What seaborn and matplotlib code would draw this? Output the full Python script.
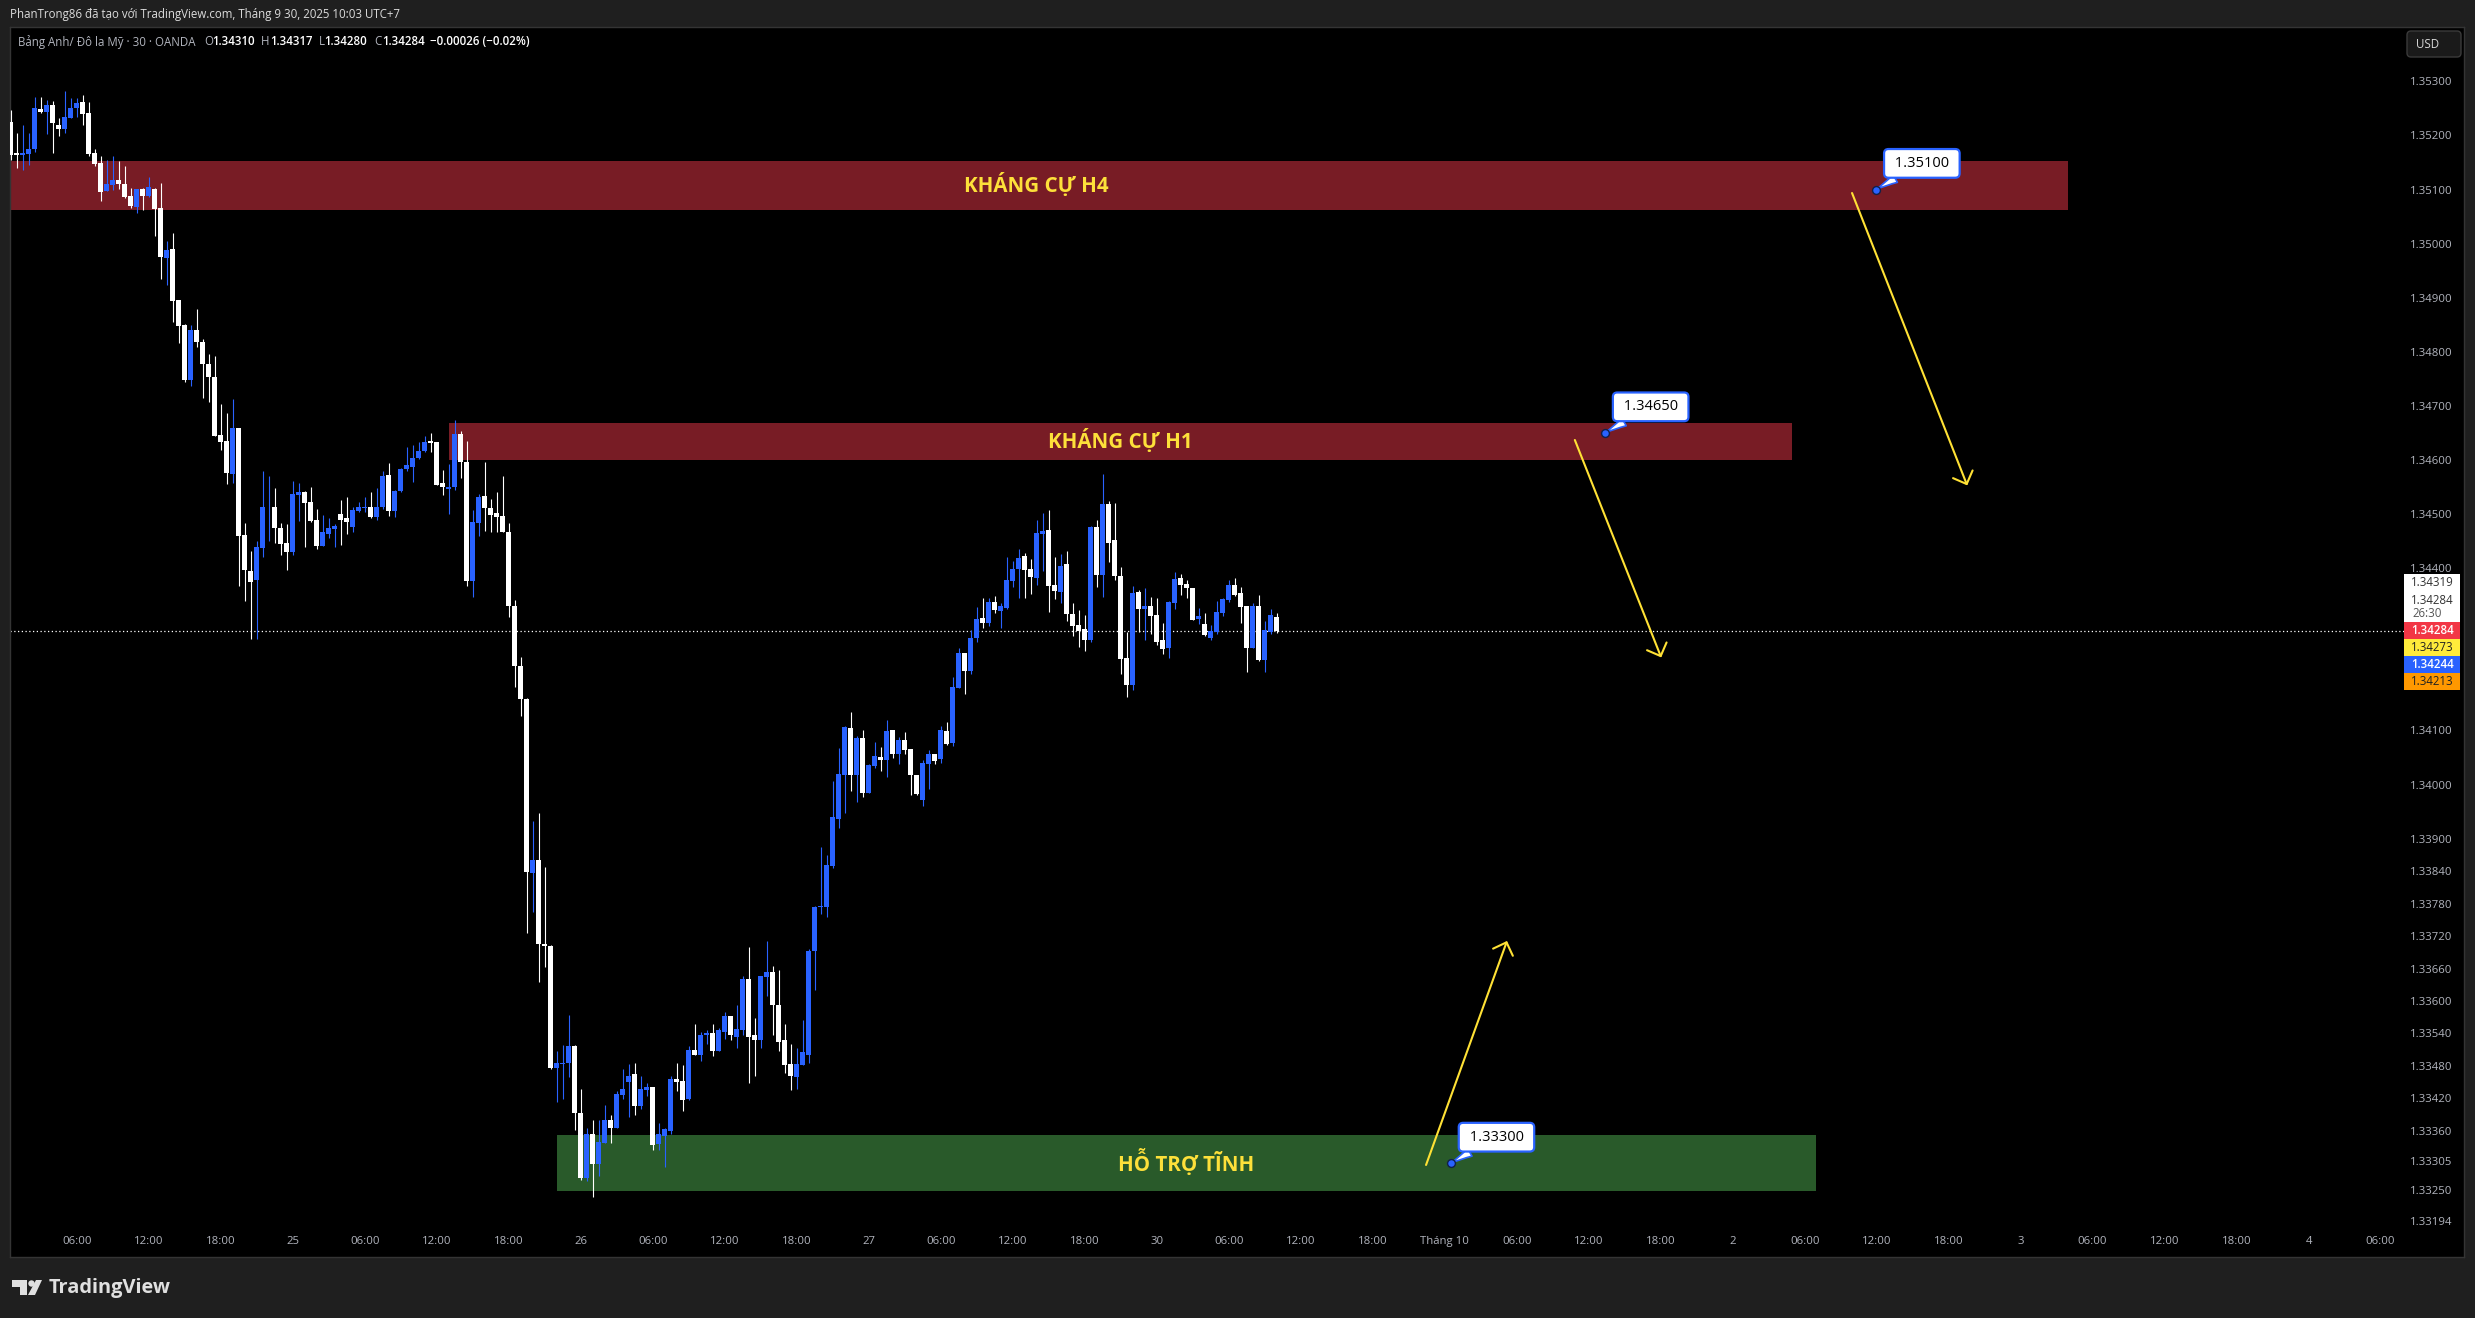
import numpy as np
import pandas as pd
import seaborn as sns
import matplotlib.pyplot as plt
from matplotlib.patches import Rectangle, FancyBboxPatch, Polygon, Circle
from matplotlib.transforms import IdentityTransform

# GBP/USD 30m candles, prices in points (1e-5)
body_top = [
    135225,135168,135168,135174,135250,135249,135257,135257,135219,135234,
    135250,135260,135262,135242,135168,135149,135111,135118,135118,135111,
    135088,135100,135100,135105,135101,135066,134989,134990,134895,134849,
    134840,134840,134819,134778,134754,134646,134635,134660,134660,134462,
    134395,134439,134514,134514,134514,134474,134447,134538,134541,134541,
    134522,134489,134466,134474,134478,134500,134493,134507,134513,134514,
    134513,134514,134570,134572,134542,134583,134590,134604,134616,134634,
    134635,134633,134557,134550,134648,134648,134596,134485,134531,134533,
    134511,134502,134496,134467,134330,134219,134158,133861,133860,133706,
    133702,133485,133485,133516,133516,133393,133355,133355,133339,133380,
    133380,133429,133438,133462,133465,133438,133441,133441,133355,133363,
    133455,133455,133452,133510,133510,133538,133540,133540,133546,133572,
    133572,133548,133641,133641,133537,133647,133653,133653,133593,133527,
    133483,133483,133505,133693,133773,133775,133852,133940,134020,134107,
    134105,134086,134086,134036,134053,134051,134099,134101,134083,134083,
    134066,134018,134040,134057,134057,134101,134099,134181,134244,134244,
    134271,134306,134308,134338,134338,134330,134378,134399,134419,134422,
    134399,134465,134469,134470,134369,134404,134408,134315,134295,134288,
    134476,134476,134518,134518,134452,134386,134234,134354,134356,134330,
    134330,134314,134268,134338,134380,134382,134371,134363,134312,134297,
    134284,134319,134343,134369,134369,134354,134330,134330,134330,134286,
    134314,134310,
]
body_bottom = [
    135164,135164,135164,135166,135174,135243,135243,135223,135212,135212,
    135233,135250,135240,135166,135147,135096,135097,135108,135111,135087,
    135070,135068,135088,135088,135064,134976,134974,134893,134847,134747,
    134747,134819,134777,134753,134644,134633,134576,134574,134459,134396,
    134375,134378,134437,134513,134474,134444,134430,134430,134535,134521,
    134487,134441,134441,134464,134472,134489,134485,134476,134506,134511,
    134494,134494,134513,134506,134506,134542,134583,134587,134604,134616,
    134631,134553,134550,134546,134550,134596,134376,134376,134483,134511,
    134499,134494,134467,134330,134220,134158,133839,133836,133706,133702,
    133477,133476,133483,133485,133393,133273,133272,133298,133298,133337,
    133366,133366,133427,133450,133405,133405,133435,133334,133335,133350,
    133360,133450,133417,133418,133500,133500,133537,133507,133507,133543,
    133538,133534,133546,133534,133527,133527,133645,133593,133525,133481,
    133461,133459,133481,133501,133693,133773,133773,133850,133937,134018,
    134017,134017,133985,133985,134034,134045,134045,134057,134057,134064,
    134017,133983,133972,134038,134044,134048,134075,134076,134179,134210,
    134210,134271,134299,134299,134323,134321,134327,134376,134399,134397,
    134384,134382,134463,134367,134358,134356,134315,134293,134284,134268,
    134268,134387,134387,134446,134386,134232,134184,134184,134325,134325,
    134312,134264,134251,134253,134336,134369,134363,134304,134306,134277,
    134271,134282,134317,134341,134351,134328,134253,134253,134231,134231,
    134282,134284,
]
highs = [
    135247,135205,135219,135205,135271,135271,135265,135264,135233,135282,
    135270,135270,135275,135262,135175,135161,135155,135161,135153,135144,
    135102,135101,135102,135123,135103,135112,135005,135019,134895,134852,
    134849,134879,134823,134796,134792,134703,134687,134712,134660,134483,
    134431,134450,134580,134570,134548,134483,134481,134562,134557,134543,
    134551,134510,134499,134492,134481,134526,134532,134514,134522,134532,
    134540,134548,134580,134594,134545,134586,134624,134627,134633,134644,
    134649,134633,134582,134592,134674,134653,134635,134507,134538,134596,
    134528,134540,134570,134483,134341,134236,134160,133933,133948,133848,
    133704,133507,133518,133575,133518,133438,133366,133380,133380,133407,
    133390,133433,133474,133483,133485,133461,133448,133441,133374,133365,
    133461,133485,133481,133516,133557,133543,133546,133557,133551,133579,
    133573,133593,133646,133699,133568,133647,133710,133665,133658,133557,
    133520,133514,133564,133697,133775,133885,133870,134007,134068,134108,
    134134,134090,134101,134038,134079,134069,134120,134101,134088,134097,
    134066,134018,134045,134064,134057,134108,134116,134199,134253,134244,
    134286,134328,134345,134344,134349,134336,134421,134413,134435,134428,
    134417,134489,134502,134507,134421,134426,134432,134336,134323,134314,
    134478,134489,134574,134524,134520,134402,134282,134367,134360,134363,
    134347,134345,134299,134339,134393,134389,134378,134363,134327,134317,
    134295,134339,134345,134378,134382,134365,134330,134336,134351,134303,
    134325,134317,
]
lows = [
    135155,135139,135136,135145,135169,135242,135203,135167,135199,135205,
    135233,135234,135219,135162,135143,135079,135097,135100,135101,135085,
    135066,135056,135063,135087,135014,134934,134923,134856,134817,134745,
    134737,134809,134714,134707,134644,134619,134555,134557,134367,134340,
    134270,134270,134420,134450,134446,134425,134396,134425,134487,134439,
    134485,134436,134441,134455,134439,134443,134464,134467,134503,134504,
    134493,134489,134510,134497,134495,134540,134580,134560,134602,134614,
    134615,134553,134535,134500,134545,134566,134367,134347,134460,134468,
    134467,134467,134467,134309,134180,134127,133725,133765,133636,133663,
    133474,133413,133419,133459,133361,133270,133268,133238,133277,133337,
    133337,133366,133419,133385,133390,133400,133425,133325,133325,133294,
    133355,133433,133397,133417,133500,133489,133520,133498,133507,133529,
    133527,133513,133537,133448,133461,133513,133610,133537,133507,133466,
    133435,133438,133481,133486,133620,133761,133756,133846,133920,133948,
    133988,133968,133977,133985,134031,134025,134014,134049,134038,134057,
    133980,133980,133961,133992,134038,134040,134073,134071,134179,134168,
    134205,134264,134290,134293,134317,134290,134325,134365,134345,134345,
    134352,134369,134395,134319,134343,134336,134303,134275,134255,134247,
    134264,134365,134347,134411,134378,134205,134161,134175,134282,134268,
    134279,134258,134242,134234,134325,134351,134345,134304,134297,134275,
    134268,134279,134312,134338,134349,134299,134209,134253,134229,134209,
    134279,134280,
]
# D = down candle (white), U = up candle (blue)
direction = (
    "DDUUUDUDDU" "UUDDDDUUDD" "DUDUDDUDDD" "UDDDDDDUDD" "DUUUDDDUUD"
    "DDUUUDDUUU" "DUUDUUUUUU" "DDDUUDDUUD" "DDDDDDDUDD" "DUUUDDUDUU"
    "DUUUDUUDUU" "UDDUDUUDUU" "DUUDDUUDDD" "DUUUUUUUUU" "DUDUUDUDUD"
    "DDUUDUDUUD" "UUDUDUUUUD" "DUUDDUDDDD" "UDUDDDDUDU" "DDDUUDDDUD"
    "UUUUDDDUDU" "UD"
)

price_ticks = [1.35300, 1.35200, 1.35100, 1.35000, 1.34900, 1.34800, 1.34700,
               1.34600, 1.34500, 1.34400, 1.34100, 1.34000, 1.33900, 1.33840,
               1.33780, 1.33720, 1.33660, 1.33600, 1.33540, 1.33480, 1.33420,
               1.33360, 1.33305, 1.33250, 1.33194]
time_labels = ['06:00', '12:00', '18:00', '25', '06:00', '12:00', '18:00', '26',
               '06:00', '12:00', '18:00', '27', '06:00', '12:00', '18:00', '30',
               '06:00', '12:00', '18:00', 'Tháng 10', '06:00', '12:00', '18:00', '2',
               '06:00', '12:00', '18:00', '3', '06:00', '12:00', '18:00', '4', '06:00']
time_ticks = [11 + 12 * k for k in range(len(time_labels))]

zone_names = ['KHÁNG CỰ H4', 'KHÁNG CỰ H1', 'HỖ TRỢ TĨNH']
zone_left = [-1, 73.05, 91.05]
zone_right = [342.9, 296.9, 300.9]
zone_top = [1.351527, 1.346684, 1.333523]
zone_bottom = [1.350621, 1.346007, 1.332488]
zone_colors = ['#781c25', '#781c25', '#295a2a']

arrow_x0 = [306.9, 260.7, 235.9]
arrow_x1 = [326.1, 275.1, 249.4]
arrow_y0 = [1.350935, 1.346370, 1.332969]
arrow_y1 = [1.345530, 1.342350, 1.337110]

note_x = [310.9, 265.7, 240.0]
note_price = [1.35100, 1.34650, 1.33300]

last_price = 1.34284
badge_values = ['1.34284', '1.34273', '1.34244', '1.34213']
badge_colors = ['#f23645', '#ffeb3b', '#2962ff', '#ff9800']
badge_text = ['white', '#222222', 'white', '#222222']

W, H = 2475, 1318
BLUE = '#2962ff'
GREY = '#b2b5be'
YELLOW = '#ffe135'

sns.set_theme(style='dark')
plt.rcParams['font.family'] = ['Open Sans', 'DejaVu Sans']

candles = pd.DataFrame({'top': body_top, 'bottom': body_bottom, 'high': highs,
                        'low': lows, 'dir': list(direction)})
assert len(candles) == 212
candles[['top', 'bottom', 'high', 'low']] /= 1e5
candles['x'] = np.arange(len(candles))
candles['color'] = candles['dir'].map({'D': 'white', 'U': BLUE})

fig = plt.figure(figsize=(W / 100, H / 100), dpi=100, facecolor='#1f1f1f')
ax = fig.add_axes([10 / W, 1 - 1257 / H, (2464 - 10) / W, (1257 - 27) / H], facecolor='black')
ax.set_xlim(-0.117, 408.9)
ax.set_ylim(1.351 - 1067.5 / 54100, 1.351 + 162.5 / 54100)
ax.grid(False)
for side in ax.spines.values():
    side.set_color('#343434')
    side.set_linewidth(1)

# zones
for name, x0, x1, y1, y0, col in zip(zone_names, zone_left, zone_right, zone_top, zone_bottom, zone_colors):
    ax.add_patch(Rectangle((x0, y0), x1 - x0, y1 - y0, facecolor=col, edgecolor='none', zorder=1))
    ax.text((x0 + x1) / 2, (y0 + y1) / 2 + 0.00001, name, color='#fde03a', fontsize=14.8,
            fontweight='bold', ha='center', va='center', zorder=2)

ax.hlines(last_price, -0.117, 399.2, color='white', lw=0.9, linestyles=(0, (1, 2)), zorder=2)

# candles
ax.vlines(candles['x'], candles['low'], candles['high'], colors=candles['color'], lw=0.8, zorder=3)
ax.bar(candles['x'], candles['top'] - candles['bottom'], bottom=candles['bottom'], width=0.84,
       color=candles['color'], linewidth=0, zorder=3)

# drawn arrows
for x0, x1, y0, y1 in zip(arrow_x0, arrow_x1, arrow_y0, arrow_y1):
    ax.annotate('', xy=(x1, y1), xytext=(x0, y0), zorder=4,
                arrowprops=dict(arrowstyle='->,head_length=0.54,head_width=0.54', color=YELLOW,
                                lw=1.5, shrinkA=0, shrinkB=0, mutation_scale=14))

# price notes
sns.scatterplot(x=note_x, y=note_price, s=32, color=BLUE, edgecolor='#10204a', linewidth=1, ax=ax, zorder=6)
for x, p in zip(note_x, note_price):
    ax.annotate(f' {p:.5f} ', xy=(x, p), xytext=(33, 18.8), textcoords='offset points', fontsize=10.5,
                color='black', ha='center', va='center', zorder=5,
                bbox=dict(boxstyle='round,pad=0.47,rounding_size=0.3', fc='white', ec=BLUE, lw=1.6),
                arrowprops=dict(arrowstyle='wedge,tail_width=0.45,shrink_factor=0.4', fc='white', ec=BLUE,
                                lw=1.2, shrinkA=0, shrinkB=0, mutation_scale=14))

# axes labels sit inside the black panel
ax.yaxis.tick_right()
ax.set_yticks(price_ticks)
ax.set_yticklabels([f'{p:.5f}' for p in price_ticks], ha='right', va='center_baseline')
ax.set_xticks(time_ticks)
ax.set_xticklabels(time_labels)
ax.tick_params(axis='y', length=0, pad=-8.2, labelsize=8.2, labelcolor=GREY)
ax.tick_params(axis='x', length=0, pad=-14.8, labelsize=8.2, labelcolor=GREY)
ax.set_xlabel('')
ax.set_ylabel('')

# chrome around the chart, in screen pixels
screen = IdentityTransform()


def put(x, y, s, **kw):
    kw.setdefault('fontsize', 8.3)
    kw.setdefault('color', GREY)
    kw.setdefault('va', 'center')
    fig.text(x, H - y, s, transform=screen, **kw)


def box(x0, y0, x1, y1, color):
    fig.add_artist(Rectangle((x0, H - y1), x1 - x0, y1 - y0, facecolor=color, edgecolor='none',
                             transform=screen, zorder=5))


put(10, 14.7, 'PhanTrong86 đã tạo với TradingView.com, Tháng 9 30, 2025 10:03 UTC+7', color='#dcdcdc')
put(18, 41.7, 'Bảng Anh/ Đô la Mỹ · 30 · OANDA')
for lab, xl, val, xv in [('O', 204, '1.34310', 212), ('H', 261, '1.34317', 270),
                         ('L', 319, '1.34280', 324.5), ('C', 374, '1.34284', 382)]:
    put(xl, 41.7, lab)
    put(xv, 41.7, val, color='white', fontweight='semibold')
put(430.5, 41.7, '−0.00026 (−0.02%)', color='white', fontweight='semibold')

fig.add_artist(FancyBboxPatch((2409, H - 55), 50, 22, boxstyle='round,pad=2,rounding_size=4', transform=screen,
                              facecolor='#1a1a1a', edgecolor='#3a3a3a', lw=1, zorder=5))
put(2416, 45, 'USD', color='#d8d8d8', zorder=6)

box(2404, 574, 2460, 622, 'white')
put(2454, 582.7, '1.34319', ha='right', color='#333333', zorder=6)
put(2454, 600, '1.34284', ha='right', color='#333333', zorder=6)
put(2412.7, 613.7, '26:30', color='#555555', zorder=6)
for k, (val, col, tc) in enumerate(zip(badge_values, badge_colors, badge_text)):
    box(2404, 622 + 17 * k, 2460, 639 + 17 * k, col)
    put(2454, 630.5 + 17 * k, val, ha='right', color=tc, zorder=6,
        fontweight='semibold' if tc == 'white' else 'normal')

# TradingView mark
for pts in ([(12, 1280), (27, 1280), (27, 1295), (20, 1295), (20, 1287), (12, 1287)],
            [(36, 1280), (42, 1280), (35, 1295), (28, 1295)]):
    fig.add_artist(Polygon([(x, H - y) for x, y in pts], closed=True, facecolor='#e0e0e0', edgecolor='none',
                           transform=screen))
fig.add_artist(Circle((31.5, H - 1283.5), 3.2, facecolor='#e0e0e0', edgecolor='none', transform=screen))
put(49, 1288, 'TradingView', fontsize=14.4, fontweight='bold', color='#e0e0e0')

fig.savefig('out.png', dpi=100, facecolor=fig.get_facecolor())
